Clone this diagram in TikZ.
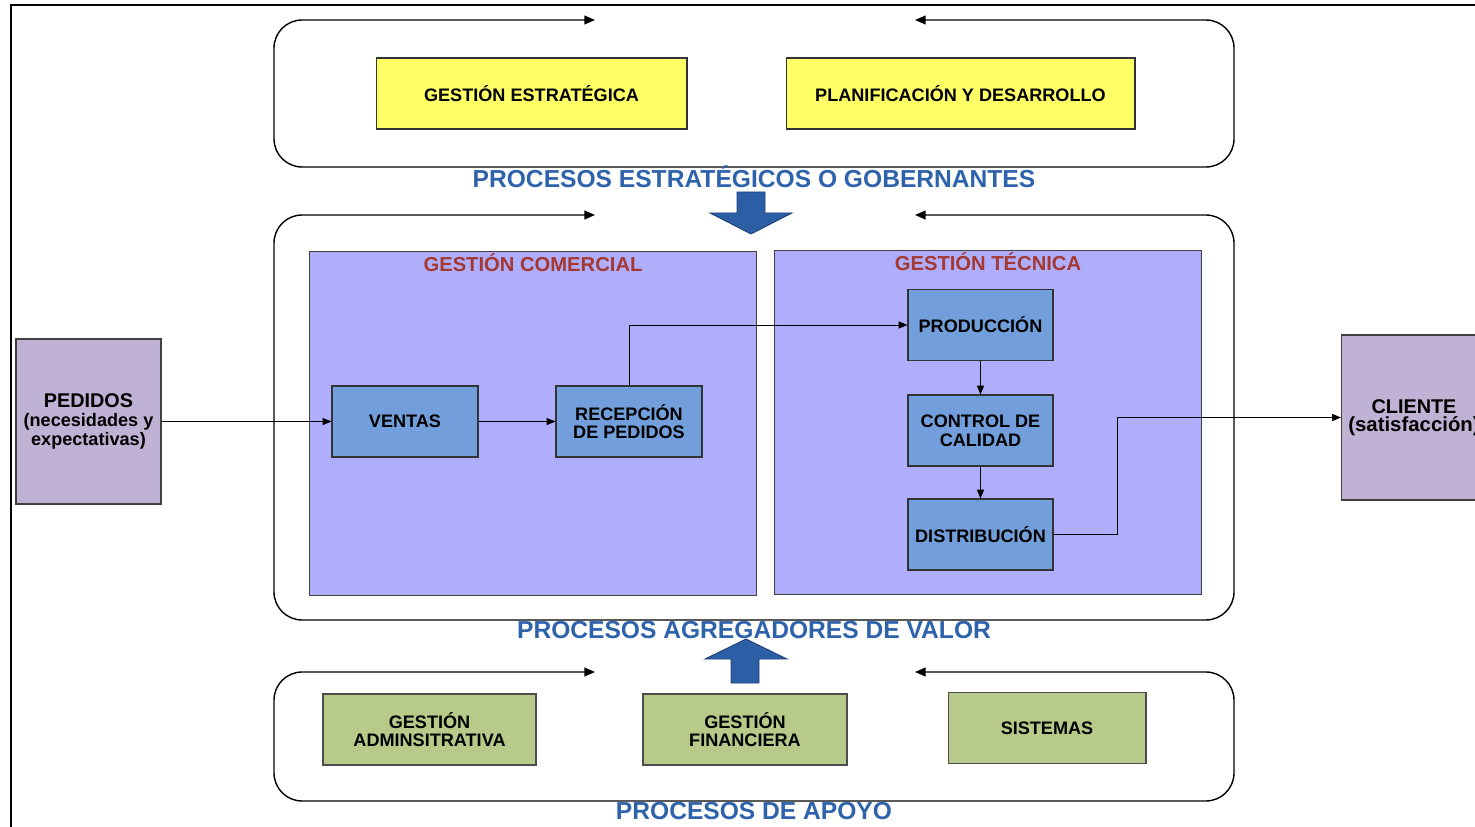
\documentclass[tikz,border=0pt]{standalone}
\usepackage{fontspec}
\setmainfont{Liberation Sans}
\usetikzlibrary{arrows.meta}
\definecolor{procyellow}{RGB}{255,255,102}
\definecolor{panelviolet}{RGB}{175,174,252}
\definecolor{procblue}{RGB}{114,159,219}
\definecolor{lilac}{RGB}{192,178,212}
\definecolor{supportgreen}{RGB}{183,202,138}
\definecolor{labelblue}{RGB}{46,99,172}
\definecolor{titlered}{RGB}{165,56,48}
\definecolor{bigarrow}{RGB}{44,94,166}

\begin{document}
\begin{tikzpicture}[x=.02cm,y=-.02cm,
  boxfont/.style={font=\fontsize{10.3}{10.6}\selectfont\bfseries},
  procbox/.style={boxfont,draw=black!80,line width=.6pt,fill=procblue,align=center,
    minimum width=2.92cm,minimum height=1.42cm,inner sep=1pt},
  yellowbox/.style={boxfont,draw=black!80,line width=.6pt,fill=procyellow,align=center,
    minimum height=1.42cm},
  greenbox/.style={boxfont,draw=black!70,line width=.6pt,fill=supportgreen,align=center,
    minimum height=1.42cm},
  endbox/.style={boxfont,draw=black!75,line width=.6pt,fill=lilac,align=center,
    minimum width=2.9cm,minimum height=3.3cm,inner sep=1pt},
  panel/.style={draw=black!75,line width=.6pt,fill=panelviolet,minimum height=6.9cm},
  paneltitle/.style={font=\fontsize{11.5}{12}\selectfont\bfseries,text=titlered},
  grouplabel/.style={font=\fontsize{14}{14}\selectfont\bfseries,text=labelblue},
  loopframe/.style={draw=black,line width=.8pt,rounded corners=16pt,
    {Triangle[length=6pt,width=5pt]}-{Triangle[length=6pt,width=5pt]}},
  flow/.style={draw=black,line width=.5pt,-{Triangle[length=5pt,width=4pt]}},
  blockarrow/.style={fill=bigarrow,draw=bigarrow!70!black,line width=.5pt}]
  \useasboundingbox (0,0) rectangle (1475,827);
  % page frame
  \draw[line width=1.4pt] (11,830) -- (11,5) -- (1480,5);

  % strategic processes
  \draw[loopframe] (595,20) -- (274,20) -- (274,167) -- (1234,167) -- (1234,20) -- (915,20);
  \node[yellowbox,minimum width=6.22cm] (estrategica) at (531.5,93.5) {GESTIÓN ESTRATÉGICA};
  \node[yellowbox,minimum width=6.98cm] (planificacion) at (960.5,93.5) {PLANIFICACIÓN Y DESARROLLO};
  \node[grouplabel] (lblestrat) at (754,177) {PROCESOS ESTRATÉGICOS O GOBERNANTES};
  \draw[blockarrow] (737,192) -- (765,192) -- (765,213) -- (792,213) -- (751,234)
    -- (710,213) -- (737,213) -- cycle;

  % value processes
  \draw[loopframe] (595,215) -- (274,215) -- (274,620) -- (1234,620) -- (1234,215) -- (915,215);
  \node[panel,minimum width=8.96cm] (comercial) at (533,423.5) {};
  \node[paneltitle] at (533,263) {GESTIÓN COMERCIAL};
  \node[panel,minimum width=8.56cm] (tecnica) at (988,422.5) {};
  \node[paneltitle] at (988,262) {GESTIÓN TÉCNICA};

  \node[procbox] (ventas) at (405,421.5) {VENTAS};
  \node[procbox] (recepcion) at (629,421.5) {RECEPCIÓN\\DE PEDIDOS};
  \node[procbox,minimum width=2.9cm] (produccion) at (980.5,325) {PRODUCCIÓN};
  \node[procbox,minimum width=2.9cm] (control) at (980.5,430.5) {CONTROL DE\\CALIDAD};
  \node[procbox,minimum width=2.9cm] (distribucion) at (980.5,534.5) {DISTRIBUCIÓN};

  \node[endbox] (pedidos) at (88.5,421.5) {{\fontsize{11.3}{12}\selectfont PEDIDOS}\\(necesidades y\\expectativas)};
  \node[endbox] (cliente) at (1414,417.5) {{\fontsize{11.3}{12}\selectfont CLIENTE}\\{\fontsize{11.6}{12}\selectfont(satisfacción)}};

  \draw[flow] (pedidos) -- (ventas);
  \draw[flow] (ventas) -- (recepcion);
  \draw[flow] (recepcion.north) |- (produccion.west);
  \draw[flow] (produccion) -- (control);
  \draw[flow] (control) -- (distribucion);
  \draw[flow] (distribucion.east) -- ++(64,0) |- (cliente.west);

  \node[grouplabel] (lblvalor) at (754,630) {PROCESOS AGREGADORES DE VALOR};
  \draw[blockarrow] (731,683) -- (759,683) -- (759,659) -- (787,659) -- (746,639)
    -- (705,659) -- (731,659) -- cycle;

  % support processes
  \draw[loopframe] (595,672) -- (274,672) -- (274,801) -- (1234,801) -- (1234,672) -- (915,672);
  \node[greenbox,minimum width=4.26cm] (administrativa) at (429.5,729.5) {GESTIÓN\\ADMINSITRATIVA};
  \node[greenbox,minimum width=4.08cm] (financiera) at (745,729.5) {GESTIÓN\\FINANCIERA};
  \node[greenbox,minimum width=3.96cm] (sistemas) at (1047,728) {SISTEMAS};
  \node[grouplabel] (lblapoyo) at (754,811) {PROCESOS DE APOYO};
\end{tikzpicture}
\end{document}
